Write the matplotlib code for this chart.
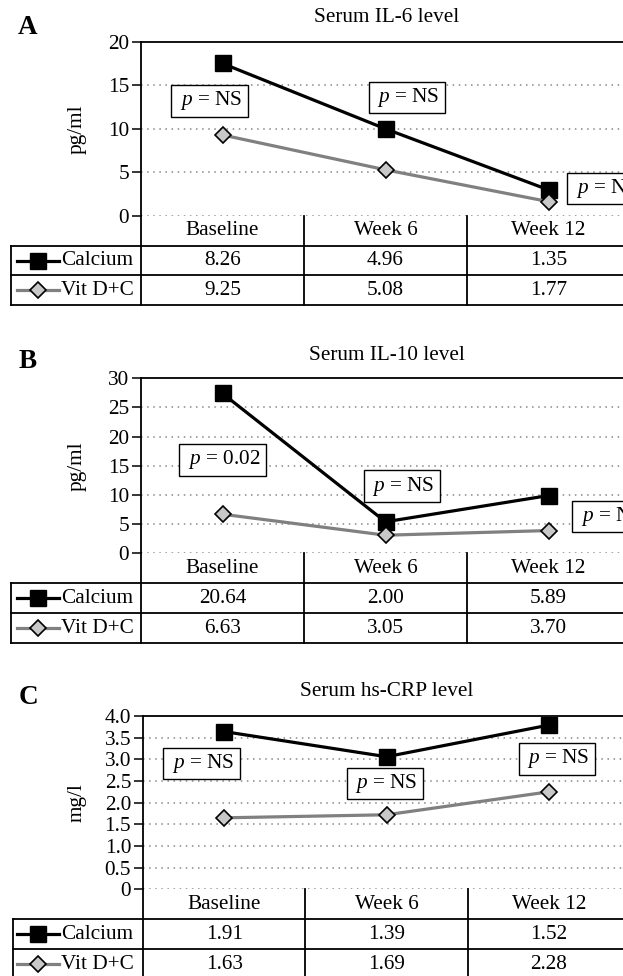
import matplotlib
matplotlib.use("Agg")
import matplotlib.pyplot as plt
from matplotlib.lines import Line2D

plt.rcParams["font.family"] = ["Liberation Serif", "DejaVu Serif"]
plt.rcParams["mathtext.fontset"] = "custom"
plt.rcParams["mathtext.rm"] = "Liberation Serif"
plt.rcParams["mathtext.it"] = "Liberation Serif:italic"

W, H = 623, 976
FS = 15.3

categories = ["Baseline", "Week 6", "Week 12"]
groups = ["Calcium", "Vit D+C"]

# plotted values
il6_calcium = [17.5, 10.0, 3.0]
il6_vitdc = [9.3, 5.3, 1.65]
il10_calcium = [27.4, 5.4, 9.9]
il10_vitdc = [6.7, 3.1, 3.9]
crp_calcium = [3.64, 3.06, 3.79]
crp_vitdc = [1.65, 1.72, 2.25]

# values printed in the data tables
il6_table_calcium = ["8.26", "4.96", "1.35"]
il6_table_vitdc = ["9.25", "5.08", "1.77"]
il10_table_calcium = ["20.64", "2.00", "5.89"]
il10_table_vitdc = ["6.63", "3.05", "3.70"]
crp_table_calcium = ["1.91", "1.39", "1.52"]
crp_table_vitdc = ["1.63", "1.69", "2.28"]

# p-values per time point
il6_p = ["NS", "NS", "NS"]
il10_p = ["0.02", "NS", "NS"]
crp_p = ["NS", "NS", "NS"]


def fx(px):
    return px / W


def fy(py):
    return 1 - py / H


def px_axes(fig, left, top, right, bottom):
    return fig.add_axes([fx(left), fy(bottom), (right - left) / W, (bottom - top) / H])


def draw_panel(fig, spec):
    left, top, right, bottom, table_bottom = spec["box"]
    col_w = (right - left) / 3

    def dx(px):
        return -0.5 + (px - left) / col_w

    ax = px_axes(fig, left, top, right, bottom)
    x = range(len(categories))
    ax.plot(x, spec["calcium"], color="black", lw=2.3, marker="s", ms=11,
            mfc="black", mec="black", zorder=4, clip_on=False)
    ax.plot(x, spec["vitdc"], color="#808080", lw=2.3, marker="D", ms=8.5,
            mfc="#c8c8c8", mec="black", mew=1.2, zorder=4, clip_on=False)
    ax.set_xlim(-0.5, 2.5)
    ax.set_ylim(0, spec["ticks"][-1])
    ax.set_yticks(spec["ticks"])
    ax.set_yticklabels(spec["ticklabels"])
    ax.set_xticks([])
    ax.tick_params(axis="y", length=6.5, width=1.1, labelsize=FS, pad=2)
    for t in spec["ticks"][:-1]:
        ax.axhline(t, color="#888888", lw=1.1, ls=(0, (1, 3)), zorder=1)
    ax.spines["bottom"].set_visible(False)
    for s in ("top", "left", "right"):
        ax.spines[s].set_linewidth(1.3)

    for (px_, py_), p in zip(spec["p_pos"], spec["p"]):
        ax.text(px_, py_, f" $p$ = {p} ", ha="center", va="center", fontsize=FS,
                zorder=5, clip_on=False,
                bbox=dict(boxstyle="square,pad=0.2", fc="white", ec="black", lw=1.0))

    fig.text(fx(387), fy(spec["title_y"]), spec["title"], ha="center", va="center", fontsize=FS)
    fig.text(fx(28), fy(spec["letter_y"]), spec["letter"], ha="center", va="center",
             fontsize=19.5, fontweight="bold")
    fig.text(fx(77), fy((top + bottom) / 2), spec["ylabel"], ha="center", va="center",
             rotation=90, fontsize=FS)

    # data table under the plot
    tax = px_axes(fig, left, bottom, right, table_bottom)
    tax.set_xlim(-0.5, 2.5)
    tax.set_ylim(3, 0)
    tax.axis("off")
    lw = 1.3
    x_edge = dx(spec["table_left"])
    for yy in (1, 2, 3):
        tax.plot([x_edge, 2.5], [yy, yy], color="black", lw=lw, clip_on=False)
    for xx in (-0.5, 0.5, 1.5, 2.5):
        tax.plot([xx, xx], [0, 3], color="black", lw=lw, clip_on=False)
    tax.plot([x_edge, x_edge], [1, 3], color="black", lw=lw, clip_on=False)

    for i, cat in enumerate(categories):
        tax.text(i, 0.5, cat, ha="center", va="center", fontsize=FS)
        tax.text(i, 1.5, spec["table_calcium"][i], ha="center", va="center", fontsize=FS)
        tax.text(i, 2.5, spec["table_vitdc"][i], ha="center", va="center", fontsize=FS)

    # legend keys in the first column
    tax.add_line(Line2D([dx(17), dx(59)], [1.5, 1.5], color="black", lw=2.3, clip_on=False))
    tax.add_line(Line2D([dx(38)], [1.5], marker="s", ms=11, color="black", clip_on=False))
    tax.add_line(Line2D([dx(17), dx(59)], [2.5, 2.5], color="#808080", lw=2.3, clip_on=False))
    tax.add_line(Line2D([dx(38)], [2.5], marker="D", ms=8.5, mfc="#c8c8c8", mec="black",
                        mew=1.2, clip_on=False))
    tax.text(dx(61), 1.5, groups[0], ha="left", va="center", fontsize=FS)
    tax.text(dx(61), 2.5, groups[1], ha="left", va="center", fontsize=FS)


def main() -> None:
    fig = plt.figure(figsize=(W / 100, H / 100), dpi=100)

    panels = [
        dict(letter="A", letter_y=27, title="Serum IL-6 level", title_y=18, ylabel="pg/ml",
             box=(141, 41.7, 630, 216, 305), table_left=11,
             calcium=il6_calcium, vitdc=il6_vitdc,
             table_calcium=il6_table_calcium, table_vitdc=il6_table_vitdc,
             ticks=[0, 5, 10, 15, 20], ticklabels=["0", "5", "10", "15", "20"],
             p=il6_p, p_pos=[(-0.08, 13.2), (1.13, 13.6), (2.35, 3.15)]),
        dict(letter="B", letter_y=362, title="Serum IL-10 level", title_y=355, ylabel="pg/ml",
             box=(141, 378.3, 630, 553.3, 643), table_left=11,
             calcium=il10_calcium, vitdc=il10_vitdc,
             table_calcium=il10_table_calcium, table_vitdc=il10_table_vitdc,
             ticks=[0, 5, 10, 15, 20, 25, 30],
             ticklabels=["0", "5", "10", "15", "20", "25", "30"],
             p=il10_p, p_pos=[(0.0, 16.0), (1.1, 11.5), (2.38, 6.3)]),
        dict(letter="C", letter_y=697, title="Serum hs-CRP level", title_y=692, ylabel="mg/l",
             box=(143, 716, 630, 889.3, 979), table_left=12.5,
             calcium=crp_calcium, vitdc=crp_vitdc,
             table_calcium=crp_table_calcium, table_vitdc=crp_table_vitdc,
             ticks=[0, 0.5, 1.0, 1.5, 2.0, 2.5, 3.0, 3.5, 4.0],
             ticklabels=["0", "0.5", "1.0", "1.5", "2.0", "2.5", "3.0", "3.5", "4.0"],
             p=crp_p, p_pos=[(-0.14, 2.9), (0.99, 2.44), (2.05, 3.01)]),
    ]

    for spec in panels:
        draw_panel(fig, spec)

    fig.savefig("out.png", dpi=100)
    plt.close(fig)


if __name__ == "__main__":
    main()
